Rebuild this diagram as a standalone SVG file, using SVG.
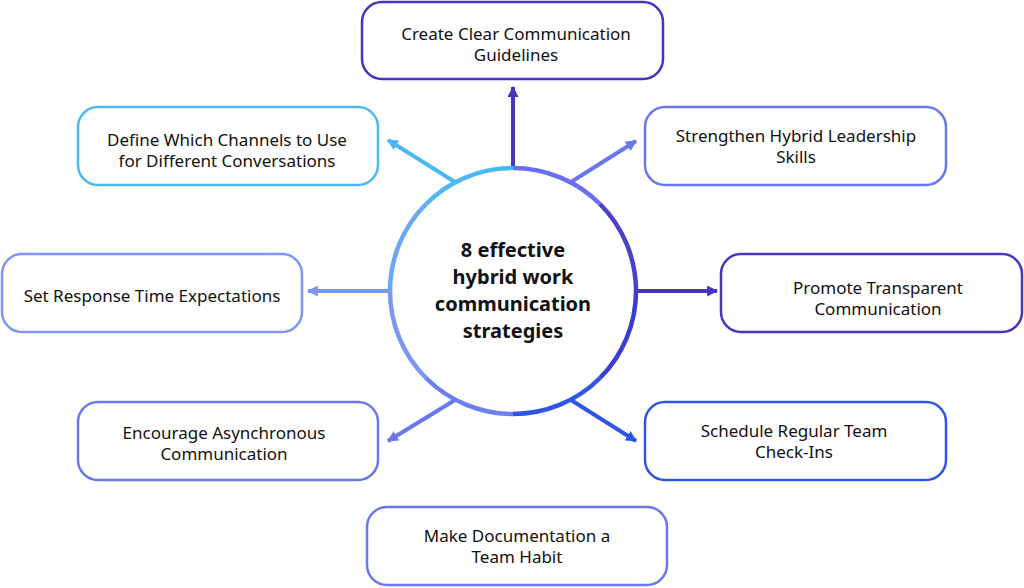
<svg xmlns="http://www.w3.org/2000/svg" width="1024" height="588" viewBox="0 0 1024 588">
<style>
.box{fill:#fff;stroke-width:2.5}
.t{font-family:"Noto Sans","Open Sans",sans-serif;font-size:17px;fill:#111;text-anchor:middle}
.c{font-family:"Noto Sans","Open Sans",sans-serif;font-size:20px;font-weight:bold;fill:#111;text-anchor:middle}
.ln{fill:none;stroke-width:4}
.arc{fill:none;stroke-width:4.5}
</style>
<defs>
<marker id="mDark" viewBox="0 0 10 10" refX="9" refY="5" markerWidth="11" markerHeight="11" markerUnits="userSpaceOnUse" orient="auto"><path d="M0,0 L10,5 L0,10 z" fill="#4535c0"/></marker>
<marker id="mLight" viewBox="0 0 10 10" refX="9" refY="5" markerWidth="11" markerHeight="11" markerUnits="userSpaceOnUse" orient="auto"><path d="M0,0 L10,5 L0,10 z" fill="#4cb8f2"/></marker>
<marker id="mMid" viewBox="0 0 10 10" refX="9" refY="5" markerWidth="11" markerHeight="11" markerUnits="userSpaceOnUse" orient="auto"><path d="M0,0 L10,5 L0,10 z" fill="#6a78f0"/></marker>
<marker id="mPale" viewBox="0 0 10 10" refX="9" refY="5" markerWidth="11" markerHeight="11" markerUnits="userSpaceOnUse" orient="auto"><path d="M0,0 L10,5 L0,10 z" fill="#7d96f5"/></marker>
<marker id="mBlue" viewBox="0 0 10 10" refX="9" refY="5" markerWidth="11" markerHeight="11" markerUnits="userSpaceOnUse" orient="auto"><path d="M0,0 L10,5 L0,10 z" fill="#2f55e8"/></marker>
</defs>
<g id="connectors">
<line class="ln" x1="513" y1="168" x2="513" y2="87" stroke="#4535c0" marker-end="url(#mDark)"/>
<line class="ln" x1="455" y1="182" x2="388" y2="140" stroke="#4cb8f2" marker-end="url(#mLight)"/>
<line class="ln" x1="571" y1="182" x2="636" y2="141" stroke="#6a78f0" marker-end="url(#mMid)"/>
<line class="ln" x1="390" y1="291" x2="308" y2="291" stroke="#7d96f5" marker-end="url(#mPale)"/>
<line class="ln" x1="636" y1="291" x2="717" y2="291" stroke="#4535c0" marker-end="url(#mDark)"/>
<line class="ln" x1="455" y1="400" x2="388" y2="441" stroke="#6a78f0" marker-end="url(#mMid)"/>
<line class="ln" x1="571" y1="400" x2="636" y2="441" stroke="#2f55e8" marker-end="url(#mBlue)"/>
</g>
<g id="center">
<circle cx="513" cy="291" r="123" fill="#fff"/>
<path class="arc" d="M513,168 A123,123 0 0 1 599.97,204.03" stroke="#6a6ef0"/>
<path class="arc" d="M599.97,204.03 A123,123 0 0 1 636,291" stroke="#4a40cc"/>
<path class="arc" d="M636,291 A123,123 0 0 1 599.97,377.97" stroke="#3a3ed0"/>
<path class="arc" d="M599.97,377.97 A123,123 0 0 1 513,414" stroke="#2f55e8"/>
<path class="arc" d="M513,414 A123,123 0 0 1 426.03,377.97" stroke="#6a80f2"/>
<path class="arc" d="M426.03,377.97 A123,123 0 0 1 390,291" stroke="#7d96f5"/>
<path class="arc" d="M390,291 A123,123 0 0 1 426.03,204.03" stroke="#6aa8f5"/>
<path class="arc" d="M426.03,204.03 A123,123 0 0 1 513,168" stroke="#4cb8f2"/>
<text class="c" x="513" y="257">8 effective</text>
<text class="c" x="513" y="284">hybrid work</text>
<text class="c" x="513" y="311">communication</text>
<text class="c" x="513" y="338">strategies</text>
</g>
<g id="n1"><rect class="box" x="362" y="2" width="301" height="77" rx="20" stroke="#4535c0"/><text class="t" x="516" y="40">Create Clear Communication</text><text class="t" x="516" y="61">Guidelines</text></g>
<g id="n2"><rect class="box" x="78" y="107" width="300" height="78" rx="20" stroke="#4cb8f2"/><text class="t" x="227" y="146">Define Which Channels to Use</text><text class="t" x="227" y="167">for Different Conversations</text></g>
<g id="n3"><rect class="box" x="645" y="107" width="301" height="78" rx="20" stroke="#6a78f0"/><text class="t" x="796" y="142">Strengthen Hybrid Leadership</text><text class="t" x="796" y="163">Skills</text></g>
<g id="n4"><rect class="box" x="2" y="254" width="300" height="78" rx="20" stroke="#7d96f5"/><text class="t" x="152" y="302">Set Response Time Expectations</text></g>
<g id="n5"><rect class="box" x="721" y="254" width="301" height="78" rx="20" stroke="#4535c0"/><text class="t" x="878" y="294">Promote Transparent</text><text class="t" x="878" y="315">Communication</text></g>
<g id="n6"><rect class="box" x="78" y="402" width="300" height="78" rx="20" stroke="#6a78f0"/><text class="t" x="224" y="439">Encourage Asynchronous</text><text class="t" x="224" y="460">Communication</text></g>
<g id="n7"><rect class="box" x="645" y="402" width="301" height="78" rx="20" stroke="#2f55e8"/><text class="t" x="794" y="437">Schedule Regular Team</text><text class="t" x="794" y="458">Check-Ins</text></g>
<g id="n8"><rect class="box" x="367" y="507" width="300" height="78" rx="20" stroke="#6a78f0"/><text class="t" x="517" y="542">Make Documentation a</text><text class="t" x="517" y="563">Team Habit</text></g>
</svg>
